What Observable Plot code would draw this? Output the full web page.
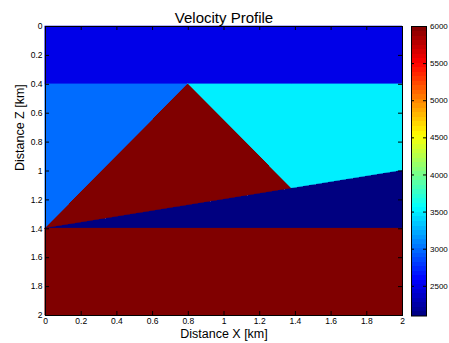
<!DOCTYPE html>
<html>
<head>
<meta charset="utf-8">
<script src="https://cdn.jsdelivr.net/npm/d3@7"></script>
<script src="https://cdn.jsdelivr.net/npm/@observablehq/plot@0.6"></script>
<style>
  body { margin: 0; background: white; }
  #wrap { position: relative; width: 449px; height: 343px; }
  #wrap svg { position: absolute; top: 0; }
</style>
</head>
<body>
<div id="wrap"></div>
<script>
// ---- data ----
const regionNames = ["top layer", "left wedge", "right block", "triangle", "dipping layer", "basement"];
const regionVelocity = [2500, 3000, 3500, 6000, 2100, 6000];
const regionX = [[0, 2], [0, 0.8], [0.8, 1.379, 2], [0, 0.8, 1.379], [0, 2], [0, 2]];
const regionTop = [[0, 0], [0.4, 0.4], [0.4, 0.4, 0.4], [1.4, 0.4, 1.124], [1.4, 1.0], [1.4, 1.4]];
const regionBottom = [[0.4, 0.4], [1.4, 0.4], [0.4, 1.124, 1.0], [1.4, 1.24, 1.124], [1.4, 1.4], [2, 2]];
const xTicks = [0, 0.2, 0.4, 0.6, 0.8, 1, 1.2, 1.4, 1.6, 1.8, 2];
const zTicks = [0, 0.2, 0.4, 0.6, 0.8, 1, 1.2, 1.4, 1.6, 1.8, 2];
const colorTicks = [2500, 3000, 3500, 4000, 4500, 5000, 5500, 6000];
const colorDomain = [2100, 6000];

// table for the library
const rows = [];
regionNames.forEach((name, i) => {
  regionX[i].forEach((x, j) => rows.push({region: name, v: regionVelocity[i], x, top: regionTop[i][j], bottom: regionBottom[i][j]}));
});

function jet(t) {
  const c = v => Math.max(0, Math.min(1, v));
  const r = c(Math.min(4 * t - 1.5, -4 * t + 4.5));
  const g = c(Math.min(4 * t - 0.5, -4 * t + 3.5));
  const b = c(Math.min(4 * t + 0.5, -4 * t + 2.5));
  return `rgb(${Math.round(r * 255)},${Math.round(g * 255)},${Math.round(b * 255)})`;
}

const W = 449, H = 343;
const mL = 45, mR = 47, mT = 26, mB = 28;
const pw = W - mL - mR, ph = H - mT - mB;
const font = "'Liberation Sans', Arial, sans-serif";
const colorScale = {type: "linear", domain: colorDomain, interpolate: jet};
const fmt = d => String(d);

const main = Plot.plot({
  width: W, height: H,
  marginLeft: mL, marginRight: mR, marginTop: mT, marginBottom: mB,
  style: {fontFamily: font, fontSize: "8.5px", color: "black", background: "transparent"},
  x: {domain: [0, 2]},
  y: {domain: [0, 2], reverse: true},
  color: colorScale,
  marks: [
    Plot.areaY(rows, {x: "x", y1: "top", y2: "bottom", z: "region", fill: "v", stroke: "v", strokeWidth: 0.6, shapeRendering: "crispEdges"}),
    Plot.frame({stroke: "black", strokeWidth: 1}),
    Plot.tickX(xTicks, {x: d => d, insetTop: ph - 4, stroke: "black"}),
    Plot.tickX(xTicks, {x: d => d, insetBottom: ph - 4, stroke: "black"}),
    Plot.tickY(zTicks, {y: d => d, insetRight: pw - 4, stroke: "black"}),
    Plot.tickY(zTicks, {y: d => d, insetLeft: pw - 4, stroke: "black"}),
    Plot.axisX(xTicks, {anchor: "bottom", tickSize: 0, tickPadding: 2, label: null, tickFormat: fmt}),
    Plot.axisY(zTicks, {anchor: "left", tickSize: 0, tickPadding: 3, label: null, tickFormat: fmt}),
    Plot.text(["Velocity Profile"], {frameAnchor: "top", dy: -14, fontSize: 15, fill: "black"}),
    Plot.text(["Distance X [km]"], {frameAnchor: "bottom", dy: 22, fontSize: 12.5, fill: "black"}),
    Plot.text(["Distance Z [km]"], {frameAnchor: "left", dx: -26, rotate: -90, fontSize: 12.5, fill: "black"})
  ]
});
main.style.left = "0px";

const cbL = 411, cbR = 426;
const cbW = 49;
const cb = Plot.plot({
  width: cbW, height: H,
  marginLeft: cbL - (W - cbW), marginRight: W - cbR, marginTop: mT, marginBottom: mB - 0.5,
  style: {fontFamily: font, fontSize: "8px", color: "black", background: "transparent", overflow: "visible"},
  x: {domain: [0, 1], axis: null},
  y: {domain: colorDomain, axis: null},
  color: colorScale,
  marks: [
    Plot.raster({x1: 0, x2: 1, y1: colorDomain[0], y2: colorDomain[1], width: 1, height: 64, fill: (x, y) => y, imageRendering: "pixelated"}),
    Plot.frame({stroke: "black", strokeWidth: 1}),
    Plot.tickY(colorTicks, {y: d => d, insetRight: (cbR - cbL) - 3, stroke: "black"}),
    Plot.tickY(colorTicks, {y: d => d, insetLeft: (cbR - cbL) - 3, stroke: "black"}),
    Plot.axisY(colorTicks, {anchor: "right", tickSize: 0, tickPadding: 3.5, label: null, tickFormat: fmt})
  ]
});
cb.style.left = (W - cbW) + "px";

const wrap = document.getElementById("wrap");
wrap.appendChild(main);
wrap.appendChild(cb);
</script>
</body>
</html>
